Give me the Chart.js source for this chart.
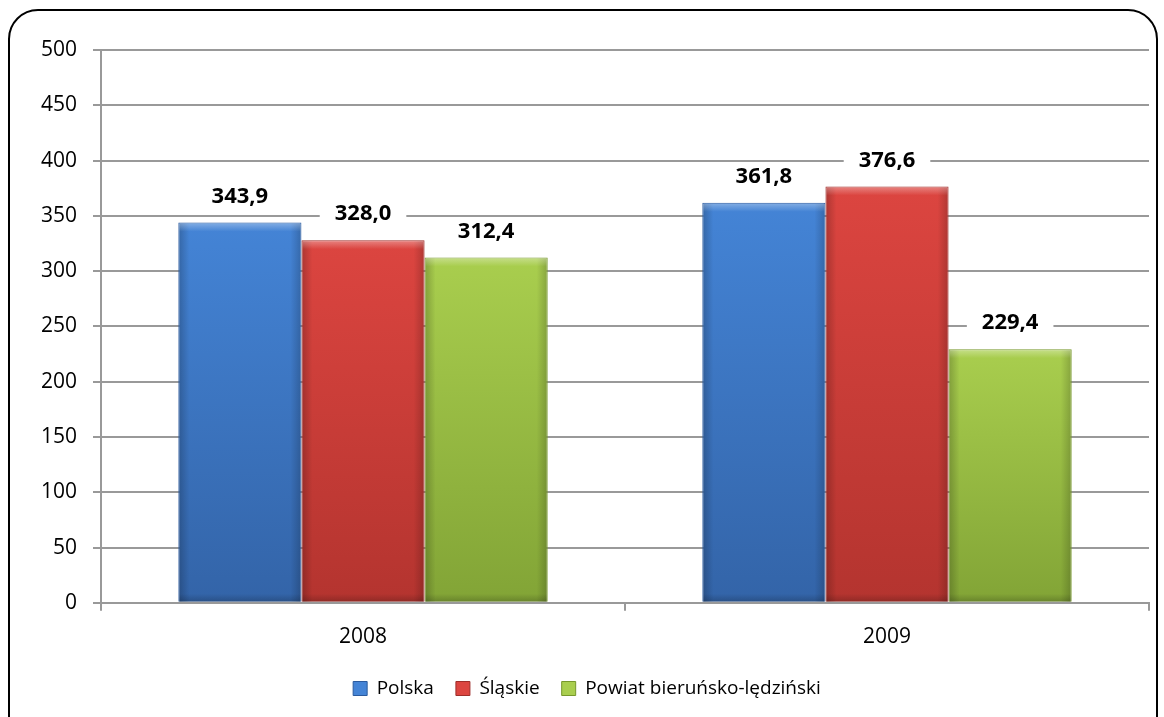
<!DOCTYPE html>
<html>
<head>
<meta charset="utf-8">
<script src="https://cdn.jsdelivr.net/npm/chart.js@4.4.0/dist/chart.umd.min.js"></script>
<style>
  html, body { margin: 0; padding: 0; background: #fff; overflow: hidden; }
  #frame {
    position: absolute; left: 8px; top: 9px; width: 1150px; height: 740px;
    border: 2px solid #000; border-radius: 30px; box-sizing: border-box;
  }
  #wrap { position: absolute; left: 0; top: 0; width: 1164px; height: 717px; }
</style>
</head>
<body>
<div id="frame"></div>
<div id="wrap"><canvas id="chart"></canvas></div>
<script>
const years = ['2008', '2009'];
const polska = [343.9, 361.8];
const slaskie = [328.0, 376.6];
const powiat = [312.4, 229.4];
const yTicks = [0, 50, 100, 150, 200, 250, 300, 350, 400, 450, 500];

const FONT = '"Open Sans", sans-serif';

// top colour, bottom colour, border
const shades = [
    ['#4484d6', '#3364a8', '#2a5a9e'],
    ['#dc4540', '#b4342f', '#9e2e2a'],
    ['#a9ce4e', '#82a436', '#77982c'],
];

const barShading = {
    id: 'barShading',
    beforeDatasetsDraw(chart) {
        const ctx = chart.ctx;
        const area = chart.chartArea;
        chart.data.datasets.forEach((ds, i) => {
            const meta = chart.getDatasetMeta(i);
            meta.data.forEach(bar => {
                const g = ctx.createLinearGradient(0, bar.y, 0, area.bottom);
                g.addColorStop(0, shades[i][0]);
                g.addColorStop(1, shades[i][1]);
                bar.options = Object.assign({}, bar.options, { backgroundColor: g });
            });
        });
    },
    afterDatasetsDraw(chart) {
        // darker sides and a light bevel on top of each bar
        const ctx = chart.ctx;
        ctx.save();
        chart.data.datasets.forEach((ds, i) => {
            chart.getDatasetMeta(i).data.forEach(bar => {
                const left = bar.x - bar.width / 2 + 1;
                const right = bar.x + bar.width / 2 - 1;
                const h = bar.base - bar.y - 1;
                const gl = ctx.createLinearGradient(left, 0, left + 10, 0);
                gl.addColorStop(0, 'rgba(0,0,0,0.2)');
                gl.addColorStop(1, 'rgba(0,0,0,0)');
                ctx.fillStyle = gl;
                ctx.fillRect(left, bar.y + 1, 10, h);
                const gr = ctx.createLinearGradient(right - 10, 0, right, 0);
                gr.addColorStop(0, 'rgba(0,0,0,0)');
                gr.addColorStop(1, 'rgba(0,0,0,0.18)');
                ctx.fillStyle = gr;
                ctx.fillRect(right - 10, bar.y + 1, 10, h);
                const gt = ctx.createLinearGradient(0, bar.y, 0, bar.y + 9);
                gt.addColorStop(0, 'rgba(255,255,255,0.35)');
                gt.addColorStop(1, 'rgba(255,255,255,0)');
                ctx.fillStyle = gt;
                ctx.fillRect(left, bar.y + 1, right - left, 9);
                const gb = ctx.createLinearGradient(0, bar.base - 8, 0, bar.base);
                gb.addColorStop(0, 'rgba(0,0,0,0)');
                gb.addColorStop(1, 'rgba(0,0,0,0.2)');
                ctx.fillStyle = gb;
                ctx.fillRect(left, bar.base - 8, right - left, 8);
            });
        });
        ctx.restore();
    }
};

const valueLabels = {
    id: 'valueLabels',
    afterDatasetsDraw(chart) {
        const ctx = chart.ctx;
        ctx.save();
        ctx.font = 'bold 22px ' + FONT;
        ctx.textAlign = 'center';
        ctx.textBaseline = 'middle';
        chart.data.datasets.forEach((ds, i) => {
            const meta = chart.getDatasetMeta(i);
            meta.data.forEach((bar, j) => {
                const txt = ds.data[j].toFixed(1).replace('.', ',');
                const w = ctx.measureText(txt).width + 30;
                const y = bar.y - 26;
                ctx.fillStyle = '#fff';
                ctx.fillRect(bar.x - w / 2, y - 14, w, 28);
                ctx.fillStyle = '#000';
                ctx.fillText(txt, bar.x, y);
            });
        });
        ctx.restore();
    }
};

new Chart(document.getElementById('chart').getContext('2d'), {
    type: 'bar',
    data: {
        labels: years,
        datasets: [
            { label: 'Polska', data: polska, backgroundColor: shades[0][0], borderColor: shades[0][2], borderWidth: 1 },
            { label: 'Śląskie', data: slaskie, backgroundColor: shades[1][0], borderColor: shades[1][2], borderWidth: 1 },
            { label: 'Powiat bieruńsko-lędziński', data: powiat, backgroundColor: shades[2][0], borderColor: shades[2][2], borderWidth: 1 },
        ],
    },
    plugins: [barShading, valueLabels],
    options: {
        responsive: true,
        maintainAspectRatio: false,
        animation: false,
        categoryPercentage: 0.705,
        barPercentage: 1.0,
        layout: { padding: { left: 25, right: 15, top: 50, bottom: 9 } },
        plugins: {
            legend: {
                position: 'bottom',
                labels: {
                    font: { family: FONT, size: 19 },
                    color: '#000',
                    boxWidth: 14,
                    boxHeight: 14,
                    padding: 22,
                    generateLabels(chart) {
                        return chart.data.datasets.map((ds, i) => ({
                            text: ds.label,
                            fillStyle: shades[i][0],
                            strokeStyle: shades[i][2],
                            lineWidth: 1,
                            datasetIndex: i,
                            fontColor: '#000',
                        }));
                    },
                },
            },
            tooltip: { enabled: false },
        },
        scales: {
            x: {
                afterFit(scale) { scale.height -= 7; },
                grid: {
                    offset: true,
                    display: true,
                    drawOnChartArea: false,
                    tickLength: 8,
                    color: '#999',
                    lineWidth: 2,
                },
                border: { color: '#999', width: 2 },
                ticks: { font: { family: FONT, size: 21 }, color: '#000', padding: 14 },
            },
            y: {
                min: 0,
                max: 500,
                afterBuildTicks(axis) { axis.ticks = yTicks.map(v => ({ value: v })); },
                grid: { color: '#999', lineWidth: 2, tickLength: 8 },
                border: { color: '#999', width: 2 },
                ticks: { font: { family: FONT, size: 21 }, color: '#000', padding: 16 },
            },
        },
    },
});
</script>
</body>
</html>
